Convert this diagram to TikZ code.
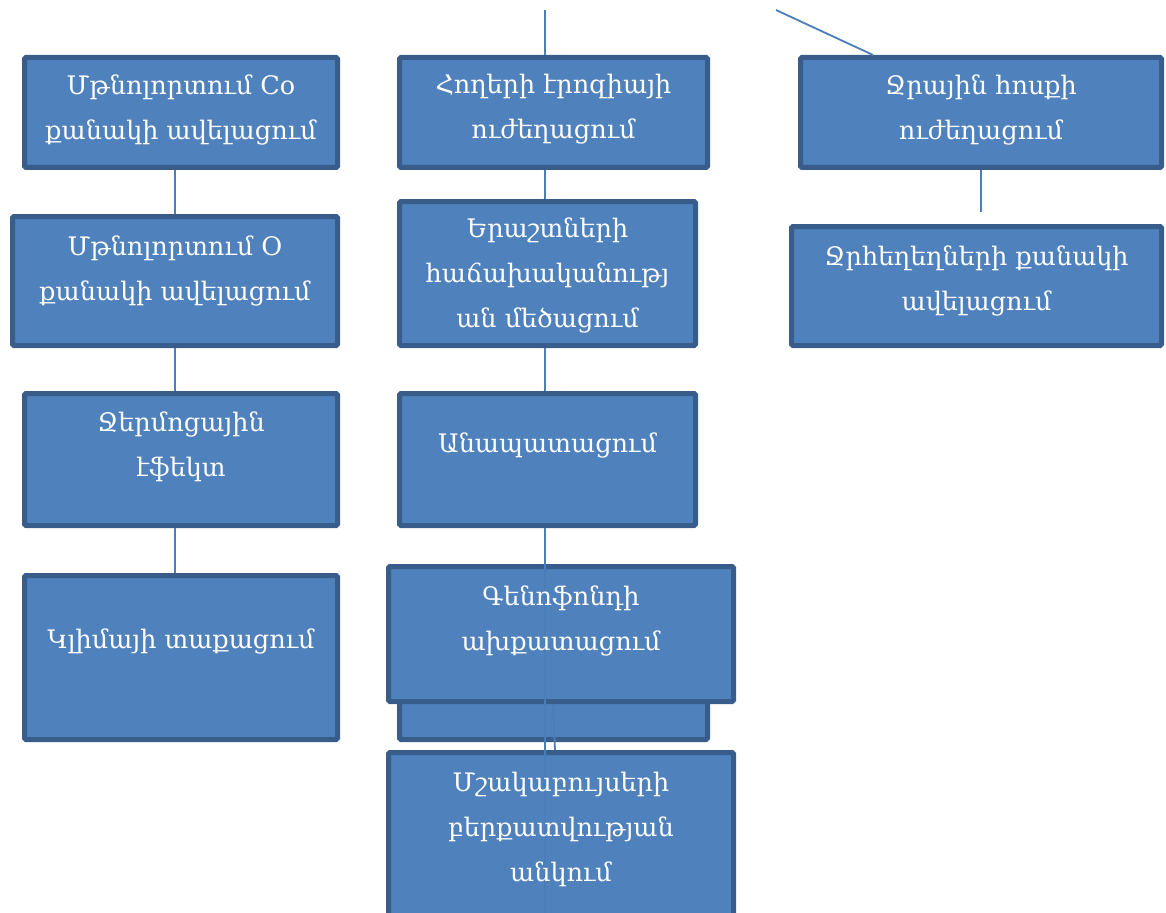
\documentclass[tikz,border=0pt]{standalone}
\usepackage{fontspec}
\setmainfont{DejaVu Serif}
\definecolor{boxfill}{HTML}{4F81BD}
\definecolor{boxline}{HTML}{385D8A}
\definecolor{linkline}{HTML}{4A7EBB}

\begin{document}
\begin{tikzpicture}[x=1pt,y=-1pt,
    box/.style={draw=boxline,fill=boxfill,line width=5pt,rounded corners=1.5pt,inner sep=0pt},
    boxtext/.style={text=white,align=center,font=\fontsize{25.5}{45}\selectfont},
    link/.style={draw=linkline,line width=1.8pt}]
\useasboundingbox (0,0) rectangle (1166,912);

% left column
\node[box,minimum width=313pt,minimum height=110pt] (a1) at (181,112.5) {};
\node[box,minimum width=325pt,minimum height=129pt] (a2) at (175,281) {};
\node[box,minimum width=313pt,minimum height=132pt] (a3) at (181,459.5) {};
\node[box,minimum width=313pt,minimum height=164pt] (a4) at (181,657.5) {};

% middle column
\node[box,minimum width=308pt,minimum height=110pt] (b1) at (553.5,112.5) {};
\node[box,minimum width=296pt,minimum height=144pt] (b2) at (547.5,273.5) {};
\node[box,minimum width=296pt,minimum height=132pt] (b3) at (547.5,459.5) {};
\node[box,minimum width=308pt,minimum height=157pt] (b4) at (553.5,661) {};
\node[box,minimum width=345pt,minimum height=135pt] (b5) at (561,634) {};
\node[box,minimum width=345pt,minimum height=163pt] (b6) at (561,834) {};

% right column
\node[box,minimum width=361pt,minimum height=110pt] (c1) at (981,112.5) {};
\node[box,minimum width=370pt,minimum height=119pt] (c2) at (976.5,286) {};

% connectors
\coordinate (btop) at (545,10);
\coordinate (ctop) at (776,10);
\draw[link] (btop) -- (btop |- b1.north);
\draw[link] (ctop) -- ([xshift=75pt]c1.north west);
\draw[link] (a1.south -| a2) -- (a2.north);
\draw[link] (a2.south) -- (a2.south |- a3.north);
\draw[link] (a3.south -| a2) -- (a4.north -| a2);
\draw[link] (b1.south -| btop) -- (b2.north -| btop);
\draw[link] (b2.south -| btop) -- (b3.north -| btop);
\draw[link] (b3.south -| btop) -- (b6.south -| btop);
\draw[link] ([xshift=-8pt]b5.south) -- ([xshift=-6pt]b6.north);
\draw[link] (c1.south) -- ([yshift=12pt]c2.north -| c1.south);

% texts
\node[boxtext] (a1t) at ([yshift=3pt]a1.center) {Մթնոլորտում Co\\քանակի ավելացում};
\node[boxtext] (a2t) at ([yshift=10pt]a2.center) {Մթնոլորտում O\\քանակի ավելացում};
\node[boxtext] (a3t) at ([yshift=13pt]a3.center) {Ջերմոցային\\էֆեկտ};
\node[boxtext] (a4t) at ([yshift=16pt]a4.center) {Կլիմայի տաքացում};
\node[boxtext] (b1t) at ([yshift=3pt]b1.center) {Հողերի էրոզիայի\\ուժեղացում};
\node[boxtext] (b2t) at ([yshift=-2pt]b2.center) {Երաշտների\\հաճախականությ\\ան մեծացում};
\node[boxtext] (b3t) at ([yshift=14pt]b3.center) {Անապատացում};
\node[boxtext] (b5t) at ([yshift=13pt]b5.center) {Գենոֆոնդի\\ախքատացում};
\node[boxtext] (b6t) at ([yshift=5pt]b6.center) {Մշակաբույսերի\\բերքատվության\\անկում};
\node[boxtext] (c1t) at ([yshift=3pt]c1.center) {Ջրային հոսքի\\ուժեղացում};
\node[boxtext] (c2t) at ([yshift=5pt]c2.center) {Ջրհեղեղների քանակի\\ավելացում};
\end{tikzpicture}
\end{document}
